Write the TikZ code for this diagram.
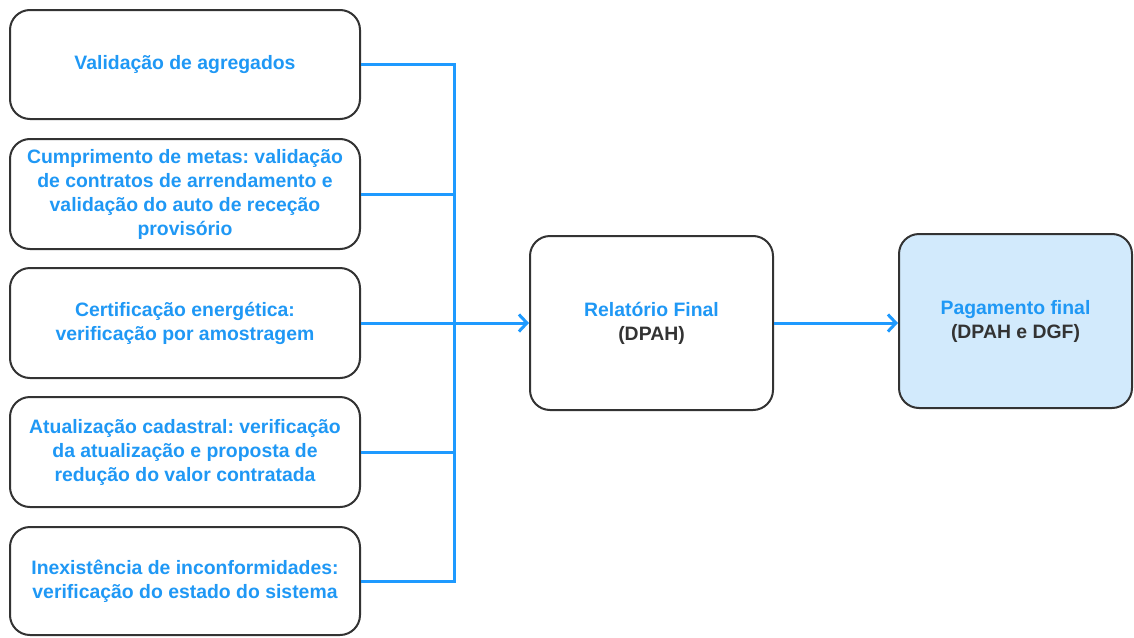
\documentclass[tikz,border=0pt]{standalone}
\usepackage{fontspec}
\setmainfont{Liberation Sans}
\usetikzlibrary{arrows.meta}
\frenchspacing
\definecolor{tblue}{HTML}{1F98F5}
\definecolor{lblue}{HTML}{1E9AFF}
\definecolor{frame}{HTML}{333333}
\definecolor{payfill}{HTML}{D2EAFC}
\tikzset{
  box/.style={draw=frame, line width=2pt, rounded corners=20pt, fill=white,
    align=center, text=tblue, inner sep=0pt,
    font=\fontsize{19.4}{24}\selectfont\bfseries\frenchspacing},
  leftbox/.style={box, minimum width=350pt, minimum height=109pt},
  link/.style={draw=lblue, line width=3pt},
  arr/.style={link, -{Straight Barb[length=8pt,width=17pt]}}
}
\begin{document}
\begin{tikzpicture}[x=1pt,y=-1pt]
\useasboundingbox (0,0) rectangle (1134,637);
\node[leftbox] (b1) at (185,64.5) {\strut Validação de agregados};
\node[leftbox, minimum height=110pt] (b2) at (185,194) {Cumprimento de metas: validação\\de contratos de arrendamento e\\validação do auto de receção\\provisório};
\node[leftbox, minimum height=110pt] (b3) at (185,323) {Certificação energética:\\verificação por amostragem};
\node[leftbox, minimum height=110pt] (b4) at (185,452) {Atualização cadastral: verificação\\da atualização e proposta de\\redução do valor contratada};
\node[leftbox, minimum height=108pt] (b5) at (185,581) {Inexistência de inconformidades:\\verificação do estado do sistema};
\node[box, minimum width=243pt, minimum height=174pt] (mid) at (651.5,323) {Relatório Final\\\textcolor{frame}{(DPAH)}};
\node[box, fill=payfill, minimum width=233pt, minimum height=174pt] (pay) at (1015.5,321) {Pagamento final\\\textcolor{frame}{(DPAH e DGF)}};
\coordinate (top) at (454,64.5);
\coordinate (bot) at (454,581);
\draw[link] (b1.east) -- (top) -- (bot) -- (b5.east);
\draw[link] (b2.east) -- (b2.east -| top);
\draw[link] (b4.east) -- (b4.east -| top);
\draw[arr] (b3.east) -- (mid.west);
\draw[arr] (mid.east) -- (pay.west |- mid.east);
\end{tikzpicture}
\end{document}
